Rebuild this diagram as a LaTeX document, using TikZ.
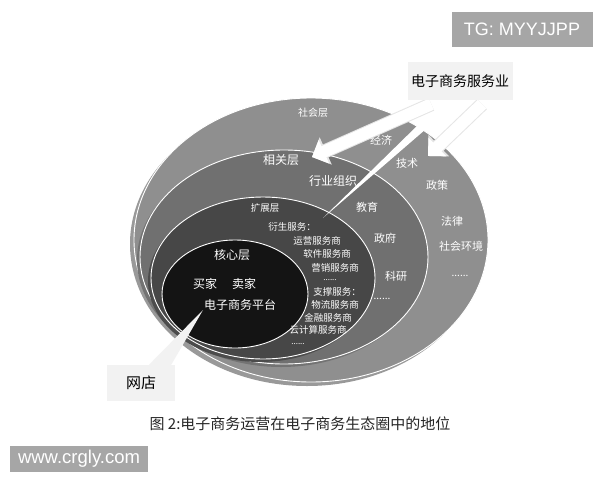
\documentclass[tikz,border=0pt]{standalone}
\usepackage{fontspec}
\setmainfont{Liberation Sans}
\newfontfamily\cjk{Noto Sans CJK SC}
\usetikzlibrary{arrows.meta}
\definecolor{ringA}{gray}{0.56}
\definecolor{ringB}{gray}{0.44}
\definecolor{ringC}{gray}{0.28}
\definecolor{ringD}{gray}{0.08}
\definecolor{paleBox}{gray}{0.95}
\definecolor{markBox}{gray}{0.65}
\tikzset{
	ring/.style={draw=white, line width=0.9pt},
	lbl/.style={text=white, inner sep=0pt, font=\cjk\fontsize{#1}{#1}\selectfont},
	lbl/.default=10,
	callout/.style={fill=paleBox, inner sep=0pt, font=\cjk\fontsize{14}{14}\selectfont},
	band/.style={draw=white, line width=12pt, -{Triangle[width=25pt, length=13pt]}},
	bandedge/.style={draw=black!10, line width=14pt, -{Triangle[width=29pt, length=15pt]}},
	wmbox/.style={fill=markBox, text=white, inner sep=0pt}
}

\begin{document}
\begin{tikzpicture}[x=1pt, y=-1pt]
			%%%%% START %%%%%
			\useasboundingbox[fill=white] (0, 0) rectangle (600, 480);
			
			% rings, outside in
			\fill[black!40] (307, 244) ellipse [x radius=177, y radius=142];
			\draw[ring, fill=ringA] (311, 240) ellipse [x radius=177, y radius=142];
			\fill[black!55] (281, 260) ellipse [x radius=144, y radius=107];
			\draw[ring, fill=ringB] (284, 257) ellipse [x radius=144, y radius=107];
			\fill[black!70] (260, 281) ellipse [x radius=112, y radius=81];
			\draw[ring, fill=ringC] (263, 278) ellipse [x radius=112, y radius=81];
			\draw[ring, fill=ringD] (235, 294) ellipse [x radius=73, y radius=54];
			
			% social layer
			\node[lbl] (shehui) at (313, 113) {社会层};
			\node[lbl=11] (jingji) at (381, 140) {经济};
			\node[lbl=11] (jishu) at (407, 163) {技术};
			\node[lbl=11] (zhengce) at (437, 185) {政策};
			\node[lbl=11] (falv) at (452, 221) {法律};
			\node[lbl=11] (huanjing) at (461, 246) {社会环境};
			\node[lbl] (dotsA) at (460, 276) {......};
			
			% related layer
			\node[lbl=12] (xiangguan) at (281, 160) {相关层};
			\node[lbl=12] (hangye) at (333, 181) {行业组织};
			\node[lbl=11] (jiaoyu) at (367, 207) {教育};
			\node[lbl=11] (zhengfu) at (385, 238) {政府};
			\node[lbl=11] (keyan) at (396, 276) {科研};
			\node[lbl] (dotsB) at (382, 299) {......};
			
			% extended layer
			\node[lbl=9.5] (kuozhan) at (265, 208) {扩展层};
			\node[lbl=9.5] (yansheng) at (292, 227) {衍生服务：};
			\node[lbl=9.5] (yunying) at (317, 241) {运营服务商};
			\node[lbl=9.5] (ruanjian) at (327, 254) {软件服务商};
			\node[lbl=9.5] (yingxiao) at (335, 268) {营销服务商};
			\node[lbl=8] (dotsC) at (330, 280) {......};
			\node[lbl=9.5] (zhicheng) at (337, 292) {支撑服务：};
			\node[lbl=9.5] (wuliu) at (335, 305) {物流服务商};
			\node[lbl=9.5] (jinrong) at (328, 318) {金融服务商};
			\node[lbl=9.5] (yunjisuan) at (318, 330) {云计算服务商};
			\node[lbl=8] (dotsD) at (298, 344) {......};
			
			% core layer
			\node[lbl=12] (hexin) at (232, 255) {核心层};
			\node[lbl=12] (maijia) at (205, 284) {买家};
			\node[lbl=12] (maijia2) at (244, 284) {卖家};
			\node[lbl=12] (pingtai) at (240, 305) {电子商务平台};
			
			% e-commerce service callout
			\coordinate (tipA) at (312, 157);
			\coordinate (tipB) at (428, 156);
			\coordinate (tipC) at (323, 218);
			\node[callout, minimum width=105pt, minimum height=38pt] (fuwu) at (460, 81) {电子商务服务业};
			\fill[white] ([xshift=36pt]fuwu.south west) -- ([xshift=52pt]fuwu.south west) -- (tipC) -- cycle;
			\draw[bandedge] ([xshift=24pt, yshift=-4pt]fuwu.south west) -- (tipA);
			\draw[bandedge] ([xshift=22pt, yshift=-4pt]fuwu.south) -- (tipB);
			\draw[band] ([xshift=24pt, yshift=-4pt]fuwu.south west) -- (tipA);
			\draw[band] ([xshift=22pt, yshift=-4pt]fuwu.south) -- (tipB);
			\node[callout, minimum width=105pt, minimum height=38pt] at (fuwu) {电子商务服务业};
			
			% shop callout
			\coordinate (tipD) at (203, 310);
			\node[callout, font=\cjk\fontsize{15}{15}\selectfont, minimum width=68pt, minimum height=36pt] (wangdian) at (141, 383) {网店};
			\fill[paleBox] ([xshift=8pt]wangdian.north) -- ([xshift=-4pt]wangdian.north east) -- (tipD) -- cycle;
			
			% caption and marks
			\node[font=\cjk\fontsize{15}{15}\selectfont, text=black!85] (caption) at (300, 424) {图 2:电子商务运营在电子商务生态圈中的地位};
			\node[wmbox, font=\fontsize{18}{18}\selectfont, minimum width=141pt, minimum height=35pt] (tg) at (522, 29) {TG: MYYJJPP};
			\node[wmbox, font=\fontsize{18.5}{18.5}\selectfont, minimum width=138pt, minimum height=26pt] (site) at (79, 459) {www.crgly.com};
			%%%%% END %%%%%
\end{tikzpicture}
\end{document}
